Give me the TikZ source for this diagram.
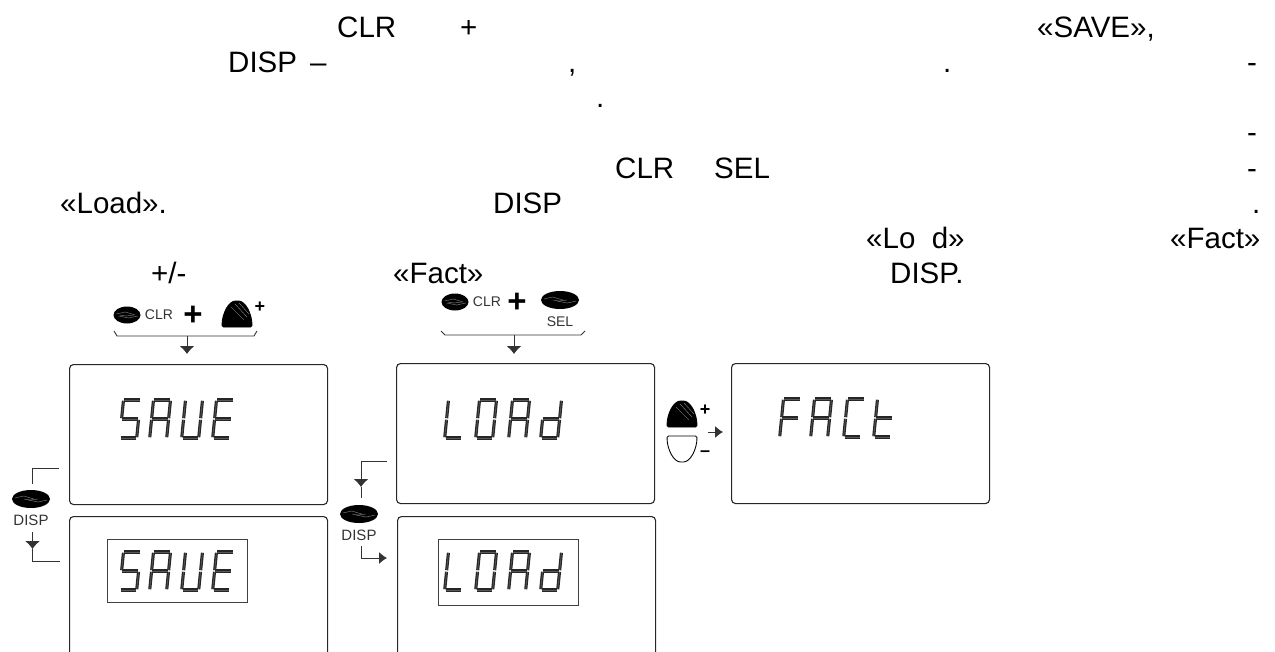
\documentclass[tikz,border=0pt]{standalone}
\usepackage{fontspec}
\setmainfont{Liberation Sans}
\usetikzlibrary{arrows.meta,shapes.geometric,positioning}
% segments of the display digits, as pairs of corners
\def\segS{tl/tr,tl/ml,ml/mr,mr/br,bl/br}
\def\segA{bl/ml,ml/tl,tl/tr,tr/mr,mr/br,ml/mr}
\def\segU{tl/ml,ml/bl,bl/br,br/mr,mr/tr}
\def\segE{tl/tr,tl/ml,ml/mr,ml/bl,bl/br}
\def\segL{tl/ml,ml/bl,bl/br}
\def\segO{tl/tr,tr/mr,mr/br,br/bl,bl/ml,ml/tl}
\def\segd{tr/mr,mr/br,br/bl,bl/ml,ml/mr}
\def\segF{tl/tr,tl/ml,ml/mr,ml/bl}
\def\segC{tl/tr,tl/ml,ml/bl,bl/br}
\def\segt{tl/ml,ml/bl,ml/mr,bl/br}
\newcommand{\segchar}[3]{%
  \begin{scope}[shift={(#1,#2)},xslant=0.1]
    \coordinate (tl) at (3.5,0);
    \coordinate (tr) at (20.5,0);
    \coordinate (ml) at (3.5,19);
    \coordinate (mr) at (20.5,19);
    \coordinate (bl) at (3.5,38);
    \coordinate (br) at (20.5,38);
    \edef\seglist{\csname seg#3\endcsname}
    \foreach \P/\Q in \seglist
      {\draw[seg] (\P) -- (\Q);}
  \end{scope}}
\tikzset{seg/.style={black!85,line width=1.2pt,double=black!65,double distance=0.7pt,
    shorten >=0.8pt,shorten <=0.8pt},
  txt/.style={font=\fontsize{29.5}{34}\selectfont,anchor=base west,inner sep=0pt},
  lcd/.style={draw,black!85,line width=1.1pt,rounded corners=4pt,anchor=north west,
    minimum width=258pt,inner sep=0pt},
  lcdtop/.style={lcd,minimum height=140pt},
  lcdlow/.style={lcd,minimum height=180pt},
  frm/.style={draw,black!75,line width=0.9pt,anchor=north west,inner sep=0pt},
  btn/.style={ellipse,fill=black,inner sep=0pt},
  lbl/.style={font=\fontsize{#1}{#1}\selectfont,text=black!80,inner sep=0pt},
  sign/.style={font=\bfseries\fontsize{#1}{#1}\selectfont,inner sep=0pt},
  wire/.style={black!80,line width=0.9pt},
  head/.style={wire,-{Latex[length=8pt,width=15pt]}},
  headr/.style={wire,-{Latex[length=8pt,width=12pt]}},
  bell/.pic={\draw[black,line width=0.9pt,fill=#1,rounded corners=1.5pt]
    (-15,0) .. controls (-15,-14) and (-8,-26) .. (0,-26)
    .. controls (8,-26) and (15,-14) .. (15,0) -- cycle;},
  bellhatch/.pic={\draw[black!35,line width=0.3pt] (-6,-20) -- (7,-7) (-2,-23) -- (10,-10)
    (2,-24) -- (12,-13);}}
\begin{document}
\begin{tikzpicture}[x=1pt,y=-1pt]
  \useasboundingbox (0,0) rectangle (1275,651);
  \clip (0,0) rectangle (1275,651);
  % running text
  \foreach \X/\Y/\T [count=\i] in {337/37/CLR,460/37/+,1037/37/{«SAVE»,},
    228/72/DISP,310/72/–,568/72/{,},943/72/.,1247/72/-,
    596/107/.,1247/142/-,
    615/178/CLR,714/178/SEL,1247/178/-,
    60/213/{«Load».},493/213/DISP,1252/213/.,
    866/248/{«Lo~~d»},1170/248/{«Fact»},
    151/283/{+/-},393/283/{«Fact»},890/283/DISP.}
    {\node[txt] (t\i) at (\X,\Y) {\T};}
  % displays
  \node[lcdtop] (saveA) at (69,364) {};
  \node[lcdlow] (saveB) at (69,516) {};
  \node[lcdtop] (loadA) at (396,363) {};
  \node[lcdlow] (loadB) at (397,516) {};
  \node[lcdtop] (factA) at (731,363) {};
  \node[frm,minimum width=140pt,minimum height=63pt] (saveF) at (107,539) {};
  \node[frm,minimum width=140pt,minimum height=66pt] (loadF) at (438,539) {};
  \foreach \Y in {400,552}
    {\foreach \X/\L in {120/S,150/A,182/U,213/E}
      {\segchar{\X}{\Y}{\L}}
    \foreach \X/\L in {445/L,476/O,509/A,541/d}
      {\segchar{\X}{\Y}{\L}}}
  \foreach \X/\L in {780/F,811/A,844/C,874/t}
    {\segchar{\X}{399}{\L}}
  % buttons
  \node[btn,minimum width=27pt,minimum height=17pt] (clrA) at (127,315) {};
  \node[btn,minimum width=27pt,minimum height=17pt] (clrB) at (455,302) {};
  \node[btn,minimum width=38pt,minimum height=18pt] (sel) at (560,300) {};
  \node[btn,minimum width=38pt,minimum height=18pt] (dispA) at (31,499) {};
  \node[btn,minimum width=38pt,minimum height=18pt] (dispB) at (359,514) {};
  \foreach \B in {clrA,clrB,sel,dispA,dispB}
    {\draw[black!55,line width=0.5pt] (\B.west) ++ (3,-1) -- ++ (9,-2) -- ++ (10,3);
    \draw[black!55,line width=0.5pt] (\B.east) ++ (-3,1) -- ++ (-9,2) -- ++ (-10,-2);
    \draw[black!55,line width=0.5pt] (\B.center) ++ (-7,0) -- ++ (6,1) -- ++ (8,-1);}
  \node[lbl=14,right=4pt of clrA] (clrAt) {CLR};
  \node[lbl=14,right=4pt of clrB] (clrBt) {CLR};
  \node[lbl=14,below=7pt of sel] (selt) {SEL};
  \node[lbl=15,below=7pt of dispA] (dispAt) {DISP};
  \node[lbl=15,below=7pt of dispB] (dispBt) {DISP};
  \node[sign=33] (plusA) at (193,316) {+};
  \node[sign=33] (plusB) at (517,303) {+};
  \path (237,327) pic {bell=black} pic {bellhatch};
  \node[sign=18] (plusC) at (260,307) {+};
  \path (682,427) pic {bell=black} pic {bellhatch};
  \path (682,436) pic[yscale=-1] {bell=white};
  \node[sign=18] (plusD) at (705,410) {+};
  \node[sign=18] (minusD) at (705,454) {–};
  % braces with their arrows
  \coordinate (bAl) at (114,331);
  \coordinate (bAm) at (187,336);
  \coordinate (bAr) at (257,331);
  \coordinate (bBl) at (441,331);
  \coordinate (bBm) at (514,335);
  \coordinate (bBr) at (585,331);
  \draw[wire] (bAl) -- ++ (3,5) -- ++ (137,0) -- (bAr);
  \draw[wire] (bBl) -- ++ (4,4) -- ++ (136,0) -- (bBr);
  \draw[head] (bAm) -- (187,354);
  \draw[head] (bBm) -- (514,354);
  \draw[headr] (708,432) -- (723,432);
  % DISP connectors
  \coordinate (sA) at (59,468);
  \coordinate (sT) at (32.5,484);
  \coordinate (sU) at (32.5,532);
  \coordinate (sM) at (32.5,549);
  \coordinate (sB) at (60,561);
  \coordinate (lA) at (387,461);
  \coordinate (lM) at (361,487);
  \coordinate (lT) at (361,498);
  \coordinate (lU) at (361,546);
  \coordinate (lB) at (387,558);
  \draw[wire] (sA) -| (sT);
  \draw[head] (sU) -- (sM);
  \draw[wire] (sM) |- (sB);
  \draw[head] (lA) -| (lM);
  \draw[wire] (lM) -- (lT);
  \draw[headr] (lU) |- (lB);
\end{tikzpicture}
\end{document}
